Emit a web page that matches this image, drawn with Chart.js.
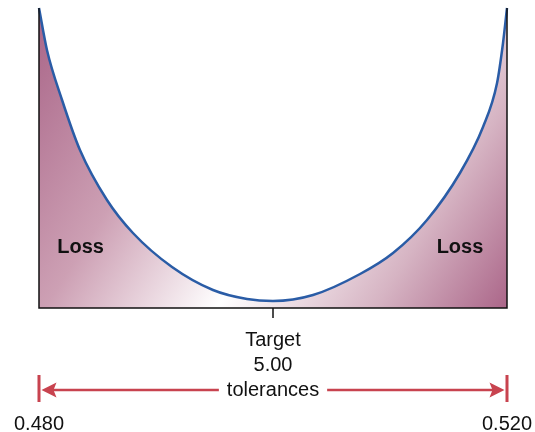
<!DOCTYPE html>
<html>
<head>
<meta charset="utf-8">
<script src="https://cdn.jsdelivr.net/npm/chart.js@4/dist/chart.umd.min.js"></script>
<style>
  html, body { margin: 0; padding: 0; background: #fff; }
  #wrap { width: 535px; height: 432px; }
</style>
</head>
<body>
<div id="wrap"><canvas id="lossChart" width="535" height="432"></canvas></div>
<script>
const measure = [0.48000, 0.48068, 0.48197, 0.48350, 0.48581, 0.48803, 0.49137, 0.49487, 0.49778, 0.50000,
                 0.50342, 0.50744, 0.51026, 0.51316, 0.51598, 0.51795, 0.51915, 0.51966, 0.52000];
const loss    = [300, 258, 208, 158, 108, 75, 41, 18, 9, 7,
                 13, 34, 55, 88, 135, 181, 225, 265, 300];

const lowerTol = 0.480;
const upperTol = 0.520;
const target = 0.500;
const targetLabel = ['Target', '5.00'];
const tolLabels = ['0.480', '0.520'];
const lossLabels = [{x: 0.48355, y: 55}, {x: 0.51598, y: 55}];

const FONT = '"Liberation Sans", Arial, Helvetica, sans-serif';
const RED = '#c8434f';

function lossFill(context) {
  const chart = context.chart;
  const area = chart.chartArea;
  if (!area) return 'rgba(180,110,140,0.6)';
  const g = chart.ctx.createLinearGradient(area.left, area.top, area.right, area.bottom);
  g.addColorStop(0, '#a96588');
  g.addColorStop(0.30, '#cda0b4');
  g.addColorStop(0.56, '#ffffff');
  g.addColorStop(0.80, '#d6b4c3');
  g.addColorStop(1, '#ab6689');
  return g;
}

// frame, target tick, labels and tolerance arrow
const decorations = {
  id: 'decorations',
  afterDatasetsDraw(chart) {
    const ctx = chart.ctx;
    const a = chart.chartArea;
    const xs = chart.scales.x, ys = chart.scales.y;
    ctx.save();

    // box edges and baseline
    ctx.strokeStyle = '#111';
    ctx.lineWidth = 1.5;
    ctx.beginPath();
    ctx.moveTo(a.left, a.top);
    ctx.lineTo(a.left, a.bottom);
    ctx.lineTo(a.right, a.bottom);
    ctx.lineTo(a.right, a.top);
    ctx.stroke();

    // target tick
    const tx = xs.getPixelForValue(target);
    ctx.beginPath();
    ctx.moveTo(tx, a.bottom);
    ctx.lineTo(tx, a.bottom + 10);
    ctx.stroke();

    // Loss labels
    ctx.fillStyle = '#111';
    ctx.font = 'bold 20px ' + FONT;
    ctx.textAlign = 'center';
    ctx.textBaseline = 'alphabetic';
    lossLabels.forEach(p => {
      ctx.fillText('Loss', xs.getPixelForValue(p.x), ys.getPixelForValue(p.y));
    });

    // target text
    ctx.font = '20px ' + FONT;
    ctx.fillText(targetLabel[0], tx, a.bottom + 38);
    ctx.fillText(targetLabel[1], tx, a.bottom + 63);
    ctx.fillText('tolerances', tx, a.bottom + 88);

    // tolerance values
    const lx = xs.getPixelForValue(lowerTol);
    const rx = xs.getPixelForValue(upperTol);
    ctx.fillText(tolLabels[0], lx, a.bottom + 122);
    ctx.fillText(tolLabels[1], rx, a.bottom + 122);

    // red arrow
    const ay = a.bottom + 82;
    const half = ctx.measureText('tolerances').width / 2 + 8;
    ctx.strokeStyle = RED;
    ctx.fillStyle = RED;
    ctx.lineWidth = 3;
    ctx.beginPath();
    ctx.moveTo(lx, a.bottom + 67); ctx.lineTo(lx, a.bottom + 94);
    ctx.moveTo(rx, a.bottom + 67); ctx.lineTo(rx, a.bottom + 94);
    ctx.stroke();
    ctx.lineWidth = 2.5;
    ctx.beginPath();
    ctx.moveTo(lx + 10, ay); ctx.lineTo(tx - half, ay);
    ctx.moveTo(tx + half, ay); ctx.lineTo(rx - 10, ay);
    ctx.stroke();
    [[lx + 2.5, 1], [rx - 2.5, -1]].forEach(([tip, d]) => {
      ctx.beginPath();
      ctx.moveTo(tip, ay);
      ctx.lineTo(tip + d * 15, ay - 7.5);
      ctx.lineTo(tip + d * 12, ay);
      ctx.lineTo(tip + d * 15, ay + 7.5);
      ctx.closePath();
      ctx.fill();
    });

    ctx.restore();
  }
};

const chart = new Chart(document.getElementById('lossChart'), {
  type: 'line',
  data: {
    datasets: [{
      data: measure.map((m, i) => ({x: m, y: loss[i]})),
      borderColor: '#2a5ca6',
      borderWidth: 2.5,
      backgroundColor: lossFill,
      fill: 'origin',
      pointRadius: 0,
      cubicInterpolationMode: 'monotone',
      clip: false
    }]
  },
  options: {
    responsive: false,
    animation: false,
    devicePixelRatio: 1,
    layout: { padding: { left: 39, right: 28, top: 8, bottom: 124 } },
    plugins: { legend: { display: false }, tooltip: { enabled: false } },
    scales: {
      x: { type: 'linear', min: lowerTol, max: upperTol, display: false },
      y: { min: 0, max: 300, display: false }
    }
  },
  plugins: [decorations]
});
</script>
</body>
</html>
